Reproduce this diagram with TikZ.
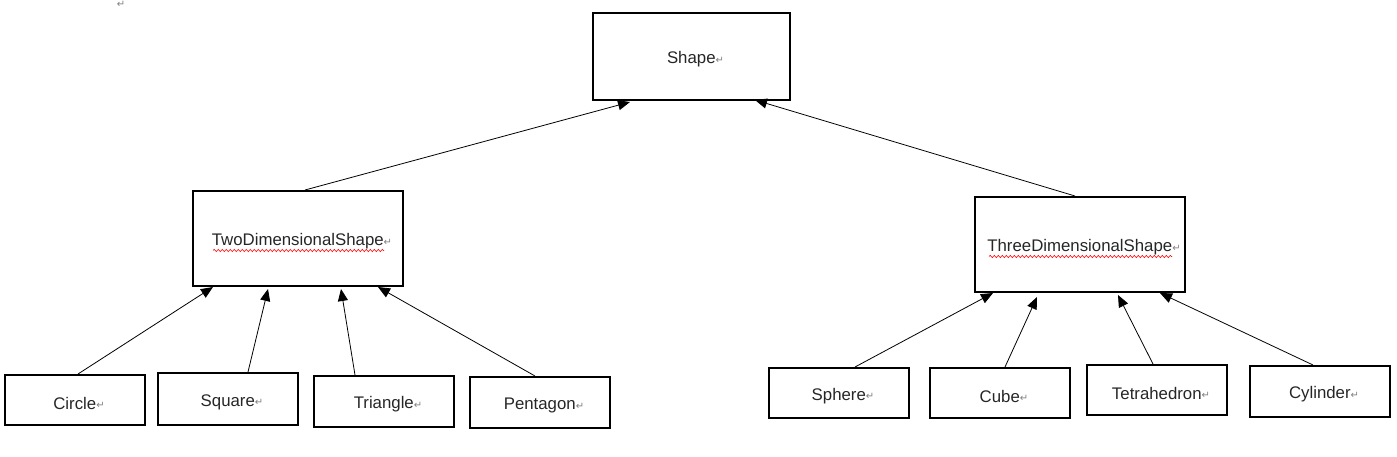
\documentclass[tikz,border=0pt]{standalone}
\usepackage{fontspec}
\setmainfont{Liberation Sans}
\newfontfamily\symfont{DejaVu Sans}
\usetikzlibrary{arrows.meta,decorations.pathmorphing}
\newcommand{\pmk}{{\symfont\fontsize{10}{11}\selectfont\color{gray}\raisebox{0.5pt}{↵}}}
\newcommand{\lbl}[1]{\raisebox{0pt}[\dimexpr\height+6pt\relax][\depth]{\hspace*{8pt}#1\pmk}}
\begin{document}
\begin{tikzpicture}[x=1pt,y=-1pt,
  box/.style={draw,line width=2pt,inner sep=0pt,font=\fontsize{16.8}{19}\selectfont,text=black!85},
  leaf/.style={box,minimum width=140pt,minimum height=50pt},
  mid/.style={box,minimum width=210pt,minimum height=95pt},
  conn/.style={line width=0.8pt,-{Triangle[length=12pt,width=10pt]}},
  spell/.style={red,line width=0.6pt,decorate,decoration={snake,amplitude=1.1pt,segment length=4pt}}]
\useasboundingbox (0,0) rectangle (1397,457);
\node[text=gray] (pm) at (121,5) {\pmk};
\node[box,minimum width=197pt,minimum height=87pt] (shape) at (691.5,56.5) {\lbl{Shape}};
\node[mid] (two) at (298,238.5) {\lbl{TwoDimensionalShape}};
\node[mid] (three) at (1080,244.5) {\lbl{ThreeDimensionalShape}};
\node[leaf] (circle) at (75,400) {\lbl{Circle}};
\node[leaf,minimum height=52pt] (square) at (228,399) {\lbl{Square}};
\node[leaf,minimum height=51pt] (triangle) at (384,401.5) {\lbl{Triangle}};
\node[leaf,minimum height=51pt] (pentagon) at (540,402.5) {\lbl{Pentagon}};
\node[leaf] (sphere) at (839,393) {\lbl{Sphere}};
\node[leaf] (cube) at (1000,393) {\lbl{Cube}};
\node[leaf] (tetra) at (1157,390) {\lbl{Tetrahedron}};
\node[leaf,minimum height=51pt] (cyl) at (1320,391.5) {\lbl{Cylinder}};
% spell-check underlines
\draw[spell] ([xshift=-85pt,yshift=-12pt]two.center) -- ([xshift=86pt,yshift=-12pt]two.center);
\draw[spell] ([xshift=-91pt,yshift=-12pt]three.center) -- ([xshift=92pt,yshift=-12pt]three.center);
% connectors
\draw[conn] ([xshift=7pt]two.north) -- ([xshift=-61.5pt,yshift=-1pt]shape.south);
\draw[conn] ([xshift=-5pt]three.north) -- ([xshift=63.5pt,yshift=1pt]shape.south);
\draw[conn] ([xshift=3pt]circle.north) -- ([xshift=-85pt]two.south);
\draw[conn] ([xshift=20pt]square.north) -- ([xshift=-30pt,yshift=-2pt]two.south);
\draw[conn] ([xshift=-29pt]triangle.north) -- ([xshift=43pt,yshift=-2pt]two.south);
\draw[conn] ([xshift=-5pt]pentagon.north) -- ([xshift=80pt]two.south);
\draw[conn] ([xshift=16pt]sphere.north) -- ([xshift=-87pt]three.south);
\draw[conn] ([xshift=5pt]cube.north) -- ([xshift=-43pt,yshift=-4pt]three.south);
\draw[conn] ([xshift=-4pt]tetra.north) -- ([xshift=38pt,yshift=-2pt]three.south);
\draw[conn] ([xshift=-7pt]cyl.north) -- ([xshift=80pt]three.south);
\end{tikzpicture}
\end{document}
